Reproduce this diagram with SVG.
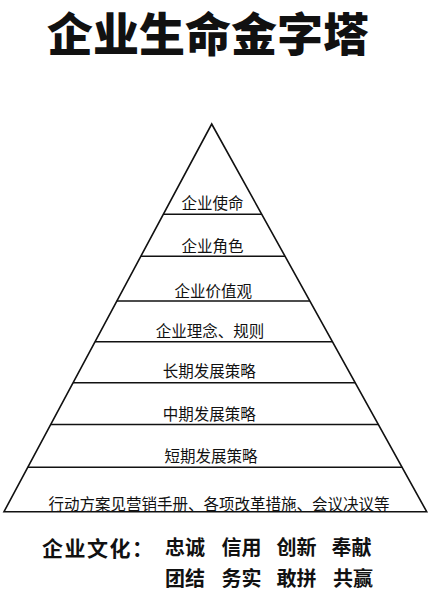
<svg xmlns="http://www.w3.org/2000/svg" width="430" height="597" viewBox="0 0 430 597">
<style>
.t{font-family:"Noto Sans CJK SC","Noto Sans",sans-serif;font-size:15.5px;fill:#111;text-anchor:middle}
.ln{stroke:#111;stroke-width:1.6;fill:none}
.title{font-family:"Noto Sans CJK SC",sans-serif;font-size:46px;font-weight:900;fill:#111;text-anchor:middle}
.c{font-family:"Noto Sans CJK SC",sans-serif;font-size:20px;font-weight:bold;fill:#111}
</style>
<rect width="430" height="597" fill="#fff"/>
<g id="title"><text class="title" x="208" y="51">企业生命金字塔</text></g>
<g id="pyramid"><path class="ln" d="M211.7,124 L426.7,511.7 L4,511.7 Z" stroke-linejoin="miter"/></g>
<g id="connectors">
<line class="ln" x1="163.3" y1="214.3" x2="261.8" y2="214.3"/>
<line class="ln" x1="140.9" y1="256.2" x2="285" y2="256.2"/>
<line class="ln" x1="116.9" y1="301" x2="309.9" y2="301"/>
<line class="ln" x1="95.1" y1="341.7" x2="332.4" y2="341.7"/>
<line class="ln" x1="73.1" y1="382.7" x2="355.2" y2="382.7"/>
<line class="ln" x1="50.7" y1="424.5" x2="378.4" y2="424.5"/>
<line class="ln" x1="27.8" y1="467.3" x2="402.1" y2="467.3"/>
</g>
<g id="layer1"><text class="t" x="212.5" y="209">企业使命</text></g>
<g id="layer2"><text class="t" x="212.5" y="252">企业角色</text></g>
<g id="layer3"><text class="t" x="213.3" y="297">企业价值观</text></g>
<g id="layer4"><text class="t" x="210" y="337">企业理念、规则</text></g>
<g id="layer5"><text class="t" x="209.2" y="377">长期发展策略</text></g>
<g id="layer6"><text class="t" x="209.2" y="420">中期发展策略</text></g>
<g id="layer7"><text class="t" x="210.9" y="462">短期发展策略</text></g>
<g id="layer8"><text class="t" x="219" y="509.5">行动方案见营销手册、各项改革措施、会议决议等</text></g>
<g id="culture">
<text class="c" x="42" y="555.5" style="font-size:21px;letter-spacing:1.5px">企业文化：</text>
<text class="c" x="165" y="555">忠诚</text>
<text class="c" x="221.5" y="555">信用</text>
<text class="c" x="276.5" y="555">创新</text>
<text class="c" x="331.5" y="555">奉献</text>
<text class="c" x="165" y="586">团结</text>
<text class="c" x="221.5" y="586">务实</text>
<text class="c" x="276.5" y="586">敢拼</text>
<text class="c" x="333" y="586">共赢</text>
</g>
</svg>
